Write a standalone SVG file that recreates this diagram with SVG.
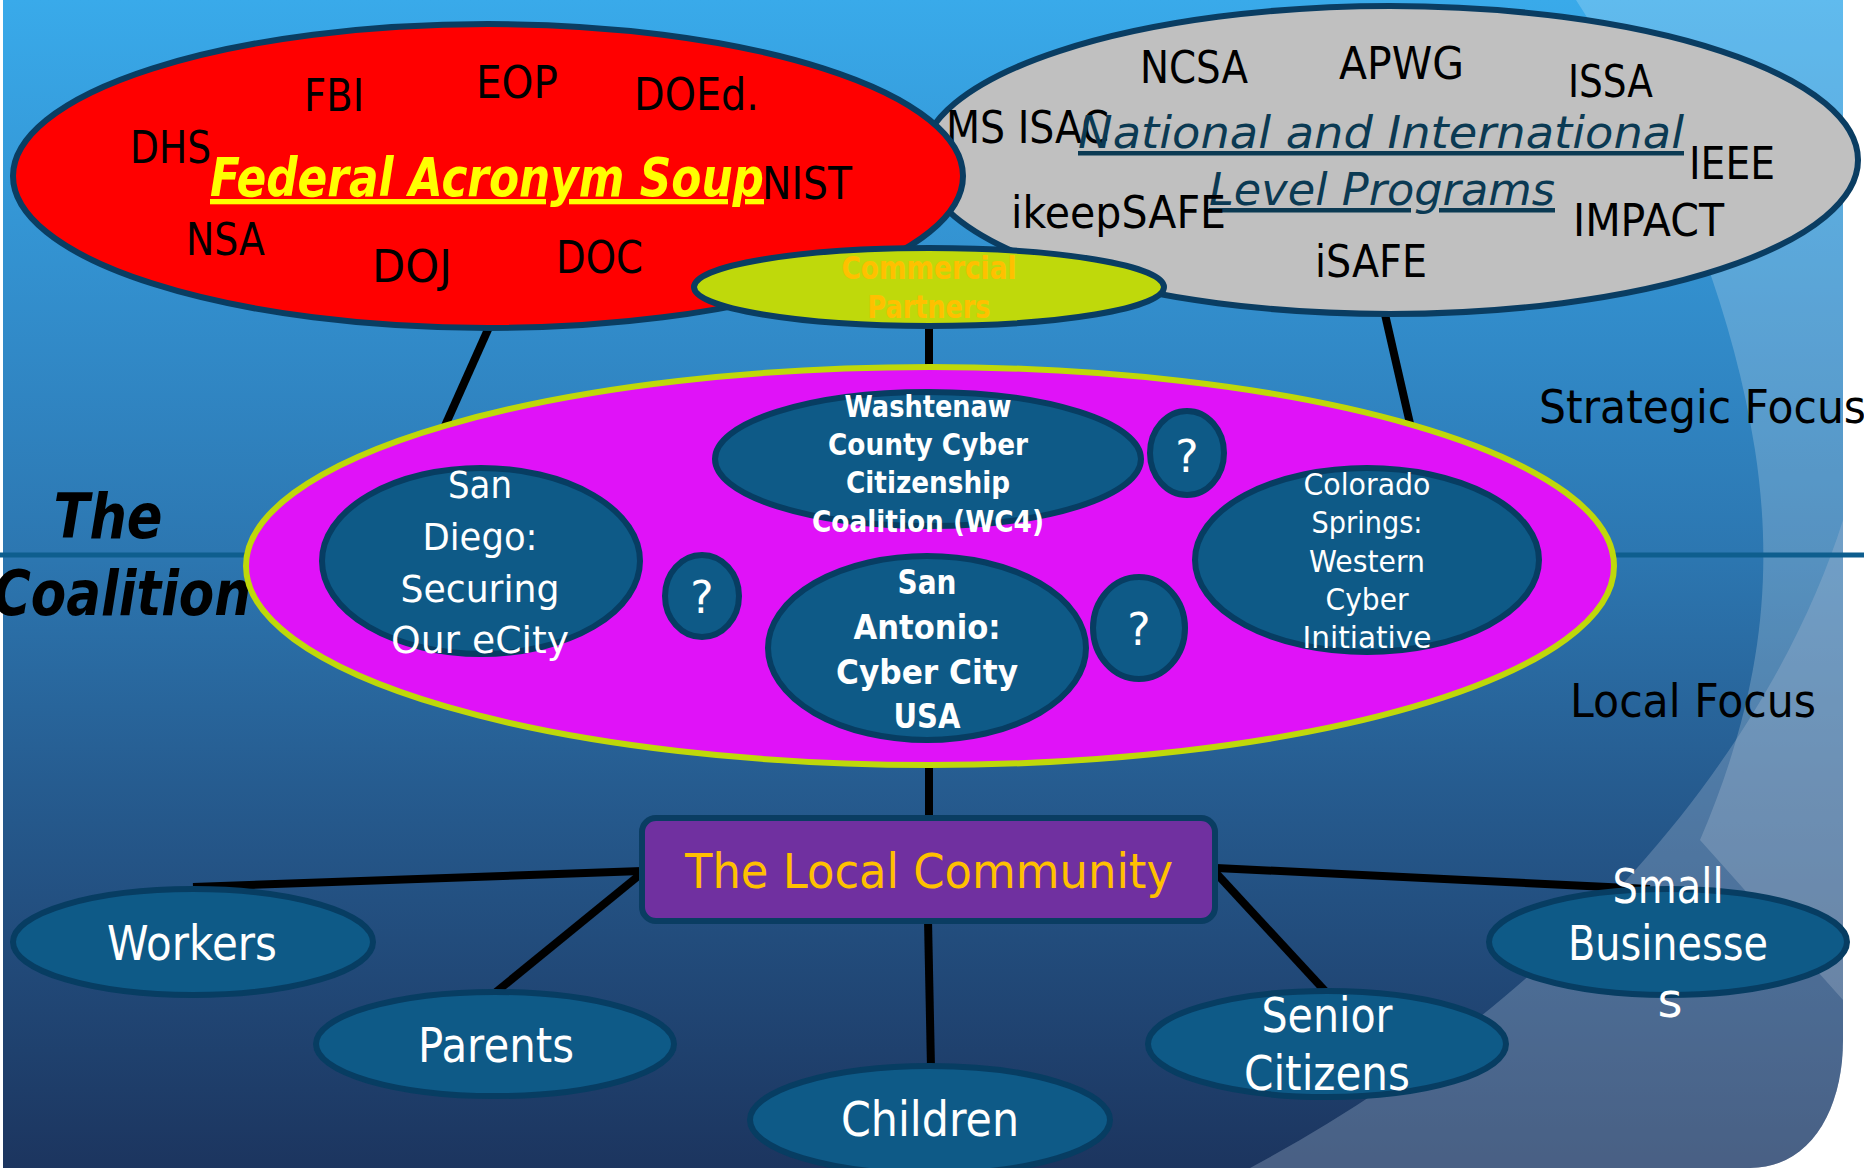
<svg xmlns="http://www.w3.org/2000/svg" width="1864" height="1168" viewBox="0 0 1864 1168">
<defs>
<linearGradient id="bg" x1="0" y1="0" x2="0" y2="1168" gradientUnits="userSpaceOnUse">
<stop offset="0" stop-color="#39AAEA"/>
<stop offset="0.3" stop-color="#3189C7"/>
<stop offset="0.48" stop-color="#2C76B0"/>
<stop offset="0.67" stop-color="#265C90"/>
<stop offset="1" stop-color="#1C355F"/>
</linearGradient>
<style>
.t{font-family:"DejaVu Sans","Liberation Sans",sans-serif}
.blk{fill:#000;font-size:45px}
.wh{fill:#fff}
.node{fill:#0E5A87;stroke:#073D62;stroke-width:6}
.con{stroke:#000;stroke-width:8;fill:none;stroke-linecap:butt}
</style>
</defs>
<rect width="1864" height="1168" fill="#fff"/>
<path d="M3 0 H1843 V1040 C1843 1110 1810 1168 1750 1168 H3 Z" fill="url(#bg)"/>
<g id="decor">
<path d="M1576 0 C1660 130 1730 290 1755 450 C1775 580 1760 700 1700 840 L1843 1000 L1843 0 Z" fill="#fff" opacity="0.2"/>
<path d="M1843 520 C1780 720 1600 980 1250 1168 L1750 1168 C1810 1168 1843 1110 1843 1040 Z" fill="#A8BCD4" opacity="0.32"/>
</g>
<line x1="0" y1="555" x2="1864" y2="555" stroke="#0E5E8E" stroke-width="5"/>
<g id="coalition-label" class="t" font-weight="bold" font-style="italic" font-size="62" fill="#000" text-anchor="middle">
<text x="108" y="538" textLength="109" lengthAdjust="spacingAndGlyphs">The</text>
<text x="122" y="615" textLength="258" lengthAdjust="spacingAndGlyphs">Coalition</text>
</g>
<g id="focus-labels" class="t" fill="#000" font-size="46">
<text x="1539" y="423" textLength="327" lengthAdjust="spacingAndGlyphs">Strategic Focus</text>
<text x="1570" y="717" textLength="246" lengthAdjust="spacingAndGlyphs">Local Focus</text>
</g>
<g id="connectors">
<line class="con" x1="490" y1="325" x2="444" y2="428"/>
<line class="con" x1="1384" y1="310" x2="1411" y2="428"/>
<line class="con" x1="929" y1="320" x2="929" y2="372"/>
<line class="con" x1="929" y1="760" x2="929" y2="820"/>
<line class="con" x1="642" y1="871" x2="193" y2="887"/>
<line class="con" x1="642" y1="873" x2="496" y2="992"/>
<line class="con" x1="928" y1="920" x2="931" y2="1068"/>
<line class="con" x1="1216" y1="873" x2="1326" y2="992"/>
<line class="con" x1="1216" y1="868" x2="1650" y2="889"/>
</g>
<g id="national">
<ellipse cx="1390" cy="160" rx="468" ry="154" fill="#C0C0C0" stroke="#0A3D62" stroke-width="6"/>
<g class="t blk">
<text x="1140" y="83" textLength="108" lengthAdjust="spacingAndGlyphs">NCSA</text>
<text x="1339" y="79" textLength="125" lengthAdjust="spacingAndGlyphs">APWG</text>
<text x="1568" y="97" textLength="85" lengthAdjust="spacingAndGlyphs">ISSA</text>
<text x="946" y="143" textLength="163" lengthAdjust="spacingAndGlyphs">MS ISAC</text>
<text x="1689" y="179" textLength="86" lengthAdjust="spacingAndGlyphs">IEEE</text>
<text x="1573" y="236" textLength="151" lengthAdjust="spacingAndGlyphs">IMPACT</text>
<text x="1315" y="277" textLength="112" lengthAdjust="spacingAndGlyphs">iSAFE</text>
</g>
<g class="t" fill="#0B3A53" font-style="italic" font-size="45" text-decoration="underline">
<text x="1078" y="148" textLength="606" lengthAdjust="spacingAndGlyphs">National and International</text>
<text x="1209" y="205" textLength="346" lengthAdjust="spacingAndGlyphs">Level Programs</text>
</g>
<text class="t blk" x="1011" y="228" textLength="215" lengthAdjust="spacingAndGlyphs">ikeepSAFE</text>
</g>
<g id="federal">
<ellipse cx="488" cy="176" rx="475" ry="152" fill="#FF0000" stroke="#0A3D62" stroke-width="6"/>
<g class="t blk">
<text x="304" y="111" textLength="60" lengthAdjust="spacingAndGlyphs">FBI</text>
<text x="476" y="98" textLength="82" lengthAdjust="spacingAndGlyphs">EOP</text>
<text x="634" y="110" textLength="125" lengthAdjust="spacingAndGlyphs">DOEd.</text>
<text x="130" y="163" textLength="81" lengthAdjust="spacingAndGlyphs">DHS</text>
<text x="762" y="199" textLength="90" lengthAdjust="spacingAndGlyphs">NIST</text>
<text x="186" y="255" textLength="79" lengthAdjust="spacingAndGlyphs">NSA</text>
<text x="372" y="282" textLength="80" lengthAdjust="spacingAndGlyphs">DOJ</text>
<text x="556" y="273" textLength="87" lengthAdjust="spacingAndGlyphs">DOC</text>
</g>
<text class="t" x="210" y="196" fill="#FFFF00" font-size="53" font-weight="bold" font-style="italic" text-decoration="underline" textLength="554" lengthAdjust="spacingAndGlyphs">Federal Acronym Soup</text>
</g>
<g id="commercial">
<ellipse cx="929" cy="287" rx="235" ry="39" fill="#BFD90B" stroke="#0A3D62" stroke-width="6"/>
<g class="t" fill="#FFC000" font-size="32" font-weight="bold" text-anchor="middle">
<text x="929" y="279" textLength="175" lengthAdjust="spacingAndGlyphs">Commercial</text>
<text x="929" y="318" textLength="123" lengthAdjust="spacingAndGlyphs">Partners</text>
</g>
</g>
<g id="coalition">
<ellipse cx="930" cy="566" rx="684" ry="199" fill="#E012F8" stroke="#BFD80A" stroke-width="6"/>
</g>
<g id="san-diego">
<ellipse class="node" cx="481" cy="561" rx="159" ry="93"/>
<g class="t wh" font-size="38" text-anchor="middle">
<text x="480" y="498" textLength="64" lengthAdjust="spacingAndGlyphs">San</text>
<text x="480" y="550" textLength="115" lengthAdjust="spacingAndGlyphs">Diego:</text>
<text x="480" y="602" textLength="159" lengthAdjust="spacingAndGlyphs">Securing</text>
<text x="480" y="653" textLength="178" lengthAdjust="spacingAndGlyphs">Our eCity</text>
</g>
</g>
<g id="washtenaw">
<ellipse class="node" cx="928" cy="459" rx="213" ry="67"/>
<g class="t wh" font-size="30" font-weight="bold" text-anchor="middle">
<text x="928" y="417" textLength="167" lengthAdjust="spacingAndGlyphs">Washtenaw</text>
<text x="928" y="455" textLength="200" lengthAdjust="spacingAndGlyphs">County Cyber</text>
<text x="928" y="493" textLength="164" lengthAdjust="spacingAndGlyphs">Citizenship</text>
<text x="928" y="532" textLength="232" lengthAdjust="spacingAndGlyphs">Coalition (WC4)</text>
</g>
</g>
<g id="san-antonio">
<ellipse class="node" cx="927" cy="648" rx="159" ry="92"/>
<g class="t wh" font-size="34" font-weight="bold" text-anchor="middle">
<text x="927" y="594" textLength="59" lengthAdjust="spacingAndGlyphs">San</text>
<text x="927" y="639" textLength="147" lengthAdjust="spacingAndGlyphs">Antonio:</text>
<text x="927" y="684" textLength="182" lengthAdjust="spacingAndGlyphs">Cyber City</text>
<text x="927" y="728" textLength="67" lengthAdjust="spacingAndGlyphs">USA</text>
</g>
</g>
<g id="colorado">
<ellipse class="node" cx="1367" cy="560" rx="172" ry="92"/>
<g class="t wh" font-size="30" text-anchor="middle">
<text x="1367" y="495" textLength="127" lengthAdjust="spacingAndGlyphs">Colorado</text>
<text x="1367" y="533" textLength="111" lengthAdjust="spacingAndGlyphs">Springs:</text>
<text x="1367" y="572" textLength="116" lengthAdjust="spacingAndGlyphs">Western</text>
<text x="1367" y="610" textLength="83" lengthAdjust="spacingAndGlyphs">Cyber</text>
<text x="1367" y="648" textLength="129" lengthAdjust="spacingAndGlyphs">Initiative</text>
</g>
</g>
<g id="q1">
<ellipse class="node" cx="1187" cy="453" rx="37" ry="42"/>
<text class="t wh" x="1187" y="472" font-size="44" text-anchor="middle">?</text>
</g>
<g id="q2">
<ellipse class="node" cx="702" cy="596" rx="37" ry="41"/>
<text class="t wh" x="702" y="613" font-size="44" text-anchor="middle">?</text>
</g>
<g id="q3">
<ellipse class="node" cx="1139" cy="628" rx="46" ry="51"/>
<text class="t wh" x="1139" y="645" font-size="44" text-anchor="middle">?</text>
</g>
<g id="local-community">
<rect x="642" y="818" width="573" height="103" rx="14" fill="#7030A0" stroke="#0A3D62" stroke-width="6"/>
<text class="t" x="929" y="888" fill="#FFC000" font-size="48" text-anchor="middle" textLength="488" lengthAdjust="spacingAndGlyphs">The Local Community</text>
</g>
<g id="workers">
<ellipse class="node" cx="193" cy="942" rx="180" ry="53"/>
<text class="t wh" x="192" y="960" font-size="48" text-anchor="middle" textLength="170" lengthAdjust="spacingAndGlyphs">Workers</text>
</g>
<g id="parents">
<ellipse class="node" cx="495" cy="1044" rx="179" ry="52"/>
<text class="t wh" x="496" y="1062" font-size="48" text-anchor="middle" textLength="156" lengthAdjust="spacingAndGlyphs">Parents</text>
</g>
<g id="children">
<ellipse class="node" cx="930" cy="1120" rx="180" ry="54"/>
<text class="t wh" x="930" y="1136" font-size="48" text-anchor="middle" textLength="178" lengthAdjust="spacingAndGlyphs">Children</text>
</g>
<g id="senior-citizens">
<ellipse class="node" cx="1327" cy="1044" rx="179" ry="53"/>
<g class="t wh" font-size="48" text-anchor="middle">
<text x="1327" y="1032" textLength="131" lengthAdjust="spacingAndGlyphs">Senior</text>
<text x="1327" y="1090" textLength="166" lengthAdjust="spacingAndGlyphs">Citizens</text>
</g>
</g>
<g id="small-businesses">
<ellipse class="node" cx="1668" cy="942" rx="179" ry="53"/>
<g class="t wh" font-size="48" text-anchor="middle">
<text x="1668" y="903" textLength="111" lengthAdjust="spacingAndGlyphs">Small</text>
<text x="1668" y="960" textLength="200" lengthAdjust="spacingAndGlyphs">Businesse</text>
<text x="1670" y="1017">s</text>
</g>
</g>
</svg>
